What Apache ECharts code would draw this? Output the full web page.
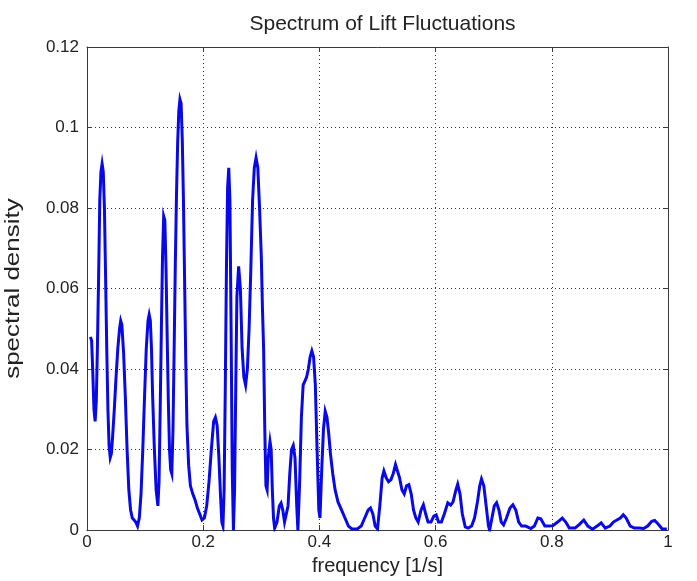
<!DOCTYPE html>
<html>
<head>
<meta charset="utf-8">
<script src="https://cdn.jsdelivr.net/npm/echarts@6/dist/echarts.min.js"></script>
<style>
  html, body { margin: 0; padding: 0; background: #fff; }
  #chart { width: 697px; height: 581px; }
</style>
</head>
<body>
<div id="chart"></div>
<script>
// Power spectral density of the lift signal
const frequency = [
  0.006, 0.008, 0.010, 0.012, 0.014, 0.016, 0.018, 0.020, 0.022, 0.024,
  0.026, 0.028, 0.030, 0.032, 0.034, 0.036, 0.038, 0.040, 0.042, 0.044,
  0.047, 0.050, 0.053, 0.056, 0.058, 0.060, 0.063, 0.066, 0.069, 0.072,
  0.075, 0.078, 0.081, 0.084, 0.087, 0.090, 0.093, 0.096, 0.099, 0.102,
  0.105, 0.107, 0.109, 0.111, 0.113, 0.116, 0.119, 0.122, 0.124, 0.126,
  0.128, 0.130, 0.132, 0.134, 0.136, 0.138, 0.140, 0.142, 0.144, 0.146,
  0.148, 0.150, 0.152, 0.154, 0.156, 0.158, 0.160, 0.162, 0.164, 0.166,
  0.168, 0.170, 0.172, 0.175, 0.178, 0.182, 0.186, 0.190, 0.194, 0.198,
  0.202, 0.206, 0.210, 0.214, 0.218, 0.221, 0.224, 0.227, 0.230, 0.232,
  0.234, 0.236, 0.238, 0.240, 0.242, 0.244, 0.246, 0.248, 0.250, 0.252,
  0.254, 0.256, 0.258, 0.261, 0.264, 0.267, 0.270, 0.273, 0.276, 0.279,
  0.282, 0.285, 0.288, 0.291, 0.294, 0.297, 0.300, 0.302, 0.304, 0.306,
  0.308, 0.310, 0.312, 0.315, 0.317, 0.319, 0.321, 0.323, 0.327, 0.331,
  0.334, 0.337, 0.340, 0.343, 0.346, 0.349, 0.352, 0.355, 0.358, 0.361,
  0.363, 0.366, 0.369, 0.372, 0.375, 0.378, 0.381, 0.384, 0.387, 0.390,
  0.393, 0.396, 0.399, 0.401, 0.404, 0.407, 0.410, 0.413, 0.416, 0.419,
  0.423, 0.427, 0.432, 0.438, 0.444, 0.450, 0.456, 0.465, 0.472, 0.478,
  0.484, 0.488, 0.492, 0.496, 0.500, 0.504, 0.508, 0.511, 0.515, 0.519,
  0.523, 0.527, 0.531, 0.534, 0.538, 0.542, 0.546, 0.550, 0.554, 0.558,
  0.562, 0.566, 0.570, 0.575, 0.579, 0.583, 0.587, 0.592, 0.597, 0.601,
  0.605, 0.610, 0.615, 0.621, 0.626, 0.630, 0.635, 0.638, 0.642, 0.646,
  0.651, 0.656, 0.662, 0.667, 0.672, 0.676, 0.679, 0.683, 0.687, 0.691,
  0.693, 0.697, 0.701, 0.705, 0.709, 0.713, 0.717, 0.722, 0.728, 0.733,
  0.738, 0.743, 0.748, 0.755, 0.764, 0.770, 0.776, 0.781, 0.788, 0.795,
  0.802, 0.810, 0.818, 0.824, 0.830, 0.840, 0.848, 0.855, 0.862, 0.870,
  0.878, 0.885, 0.892, 0.900, 0.906, 0.912, 0.918, 0.923, 0.928, 0.935,
  0.942, 0.950, 0.958, 0.965, 0.972, 0.977, 0.983, 0.990, 0.998
];

const density = [
  0.048, 0.047, 0.039, 0.030, 0.027, 0.032, 0.046, 0.063, 0.082, 0.089,
  0.091, 0.089, 0.080, 0.063, 0.045, 0.030, 0.021, 0.018, 0.019, 0.023,
  0.030, 0.038, 0.045, 0.050, 0.052, 0.051, 0.044, 0.033, 0.020, 0.010,
  0.005, 0.003, 0.003, 0.002, 0.001, 0.003, 0.009, 0.020, 0.033, 0.045,
  0.052, 0.0535, 0.052, 0.045, 0.033, 0.020, 0.010, 0.006, 0.012, 0.030,
  0.050, 0.068, 0.078, 0.077, 0.065, 0.048, 0.032, 0.020, 0.015, 0.014,
  0.025, 0.045, 0.066, 0.083, 0.096, 0.104, 0.107, 0.106, 0.097, 0.082,
  0.062, 0.042, 0.026, 0.016, 0.011, 0.009, 0.0075, 0.0055, 0.004, 0.0025,
  0.003, 0.006, 0.012, 0.020, 0.027, 0.028, 0.026, 0.018, 0.008, 0.002,
  0.001, 0.010, 0.035, 0.065, 0.085, 0.090, 0.082, 0.050, 0.015, 0.000,
  0.010, 0.035, 0.058, 0.0655, 0.060, 0.045, 0.038, 0.036, 0.040, 0.050,
  0.065, 0.082, 0.090, 0.0925, 0.090, 0.080, 0.068, 0.055, 0.045, 0.025,
  0.011, 0.010, 0.018, 0.022, 0.020, 0.010, 0.003, 0.0005, 0.002, 0.006,
  0.0067, 0.005, 0.002, 0.0017, 0.006, 0.014, 0.020, 0.021, 0.018, 0.006,
  0.000, 0.012, 0.028, 0.036, 0.037, 0.038, 0.040, 0.043, 0.0445, 0.043,
  0.036, 0.020, 0.005, 0.003, 0.015, 0.025, 0.0295, 0.028, 0.024, 0.019,
  0.014, 0.010, 0.007, 0.005, 0.003, 0.001, 0.0003, 0.0003, 0.001, 0.003,
  0.005, 0.0055, 0.004, 0.001, 0.0003, 0.006, 0.013, 0.0147, 0.013, 0.012,
  0.0125, 0.014, 0.0163, 0.016, 0.013, 0.010, 0.009, 0.011, 0.0113, 0.009,
  0.005, 0.003, 0.002, 0.005, 0.0063, 0.004, 0.002, 0.002, 0.0035, 0.0038,
  0.002, 0.002, 0.004, 0.0068, 0.0062, 0.007, 0.010, 0.0114, 0.009, 0.004,
  0.0008, 0.0005, 0.001, 0.003, 0.007, 0.011, 0.0127, 0.011, 0.006, 0.001,
  0.000, 0.003, 0.006, 0.0068, 0.005, 0.002, 0.0013, 0.003, 0.0055, 0.0063,
  0.005, 0.002, 0.001, 0.001, 0.0004, 0.001, 0.003, 0.0028, 0.001, 0.001,
  0.0011, 0.002, 0.003, 0.002, 0.0005, 0.0005, 0.0015, 0.0025, 0.001, 0.0002,
  0.001, 0.0018, 0.0005, 0.001, 0.002, 0.0025, 0.003, 0.0038, 0.003, 0.001,
  0.0005, 0.0005, 0.0004, 0.001, 0.0022, 0.0024, 0.0015, 0.0003, 0.0003
];

const xTicks = [0, 0.2, 0.4, 0.6, 0.8, 1];
const yTicks = [0, 0.02, 0.04, 0.06, 0.08, 0.1, 0.12];

const FONT = '"Liberation Sans", Arial, Helvetica, sans-serif';
const TEXT_COLOR = '#222';
const AXIS_COLOR = '#3a3a3a';

const GRID = { left: 87, right: 29, top: 47, bottom: 32 };
const PLOT_CENTER_X = GRID.left + (697 - GRID.left - GRID.right) / 2;

const chart = echarts.init(document.getElementById('chart'), null, { renderer: 'canvas' });

const seriesData = frequency.map((f, i) => [f, density[i]]);
const tickText = v => String(+v.toFixed(2));

const xBase = {
  type: 'value',
  min: xTicks[0],
  max: xTicks[xTicks.length - 1],
  interval: xTicks[1] - xTicks[0],
  axisLine: { show: true, onZero: false, lineStyle: { color: AXIS_COLOR, width: 1 } },
  axisTick: { show: true, inside: true, length: 5, lineStyle: { color: AXIS_COLOR } }
};
const yBase = {
  type: 'value',
  min: yTicks[0],
  max: yTicks[yTicks.length - 1],
  interval: yTicks[1] - yTicks[0],
  axisLine: { show: true, onZero: false, lineStyle: { color: AXIS_COLOR, width: 1 } },
  axisTick: { show: true, inside: true, length: 5, lineStyle: { color: AXIS_COLOR } }
};

chart.setOption({
  backgroundColor: '#ffffff',
  animation: false,
  title: {
    text: 'Spectrum of Lift Fluctuations',
    left: PLOT_CENTER_X,
    top: 9,
    textAlign: 'center',
    textStyle: { fontFamily: FONT, fontSize: 21, fontWeight: 'normal', color: TEXT_COLOR }
  },
  grid: Object.assign({ containLabel: false }, GRID),
  xAxis: [
    Object.assign({}, xBase, {
      position: 'bottom',
      name: 'frequency [1/s]',
      nameLocation: 'middle',
      nameGap: 18,
      nameTextStyle: { fontFamily: FONT, fontSize: 20, color: TEXT_COLOR, verticalAlign: 'top' },
      axisLabel: { fontFamily: FONT, fontSize: 17, color: TEXT_COLOR, margin: 4, formatter: tickText },
      splitLine: { show: true, lineStyle: { color: '#333', width: 1, type: [1, 3] } }
    }),
    Object.assign({}, xBase, {
      position: 'top',
      axisLabel: { show: false },
      splitLine: { show: false }
    })
  ],
  yAxis: [
    Object.assign({}, yBase, {
      position: 'left',
      axisLabel: { fontFamily: FONT, fontSize: 17, color: TEXT_COLOR, margin: 8, formatter: tickText },
      splitLine: { show: true, lineStyle: { color: '#333', width: 1, type: [1, 3] } }
    }),
    Object.assign({}, yBase, {
      position: 'right',
      axisLabel: { show: false },
      splitLine: { show: false }
    })
  ],
  series: [{
    type: 'line',
    xAxisIndex: 0,
    yAxisIndex: 0,
    data: seriesData,
    showSymbol: false,
    lineStyle: { color: '#0808e8', width: 3, join: 'miter' },
    itemStyle: { color: '#0808e8' }
  }]
});

// Vertical axis title, centred on the plotting area and drawn slightly elongated
const plotTopPx = chart.convertToPixel({ yAxisIndex: 0 }, yTicks[yTicks.length - 1]);
const plotBottomPx = chart.convertToPixel({ yAxisIndex: 0 }, yTicks[0]);
chart.setOption({
  graphic: [{
    type: 'text',
    x: 13,
    y: (plotTopPx + plotBottomPx) / 2,
    rotation: Math.PI / 2,
    scaleX: 1.3,
    silent: true,
    style: {
      text: 'spectral density',
      font: '20px ' + FONT,
      fill: TEXT_COLOR,
      align: 'center',
      verticalAlign: 'middle'
    }
  }]
});
</script>
</body>
</html>
